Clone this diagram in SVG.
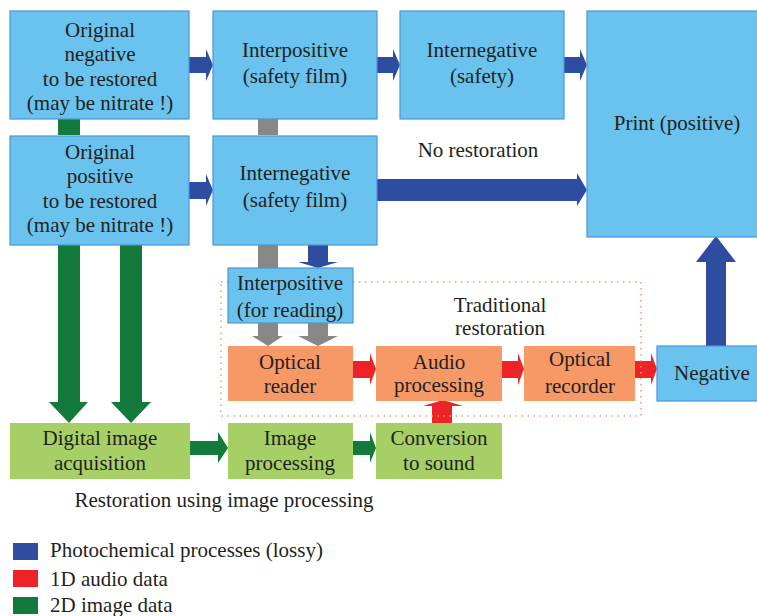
<svg xmlns="http://www.w3.org/2000/svg" width="757" height="616" viewBox="0 0 757 616" font-family="'Liberation Serif', serif" font-size="21">
<style>
.b{fill:#69C3EE;stroke:#4D94D6;stroke-width:1.2}
.o{fill:#F79867}
.g{fill:#A6D066}
text{font-family:"Liberation Serif",serif;font-size:21px;fill:#231F20;text-anchor:middle}
.l{text-anchor:start}
.ab{fill:#2E4DA0}
.ar{fill:#EE2328}
.ag{fill:#137A3C}
.ay{fill:#878787}
</style>
<rect width="757" height="616" fill="#fff"/>
<g id="connectors">
<polygon class="ab" points="189,57 206,57 206,49 213,65 206,81 206,73 189,73"/>
<polygon class="ab" points="377,57 393,57 393,49 400,65 393,81 393,73 377,73"/>
<polygon class="ab" points="564,57 580,57 580,49 587,65 580,81 580,73 564,73"/>
<polygon class="ab" points="189,182 206,182 206,174 213,190 206,206 206,199 189,199"/>
<polygon class="ab" points="377,179 577,179 577,173 587,190 577,206 577,201 377,201"/>
<polygon class="ab" points="308,245 328,245 328,262 338,262 318,268 298,262 308,262"/>
<polygon class="ab" points="706,346 706,262 696,262 716,236 736,262 726,262 726,346"/>
<rect class="ag" x="58" y="119" width="22" height="16"/>
<polygon class="ag" points="58,245 80,245 80,402 88,402 69,423 49,402 58,402"/>
<polygon class="ag" points="120,245 142,245 142,402 151,402 131,423 111,402 120,402"/>
<polygon class="ag" points="190,441 218,441 218,432 228,448 218,463 218,455 190,455"/>
<polygon class="ag" points="353,441 370,441 370,432 376,448 370,463 370,455 353,455"/>
<rect class="ay" x="258" y="119" width="20" height="16"/>
<rect class="ay" x="258" y="245" width="20" height="23"/>
<polygon class="ay" points="258,323 278,323 278,336 283,336 268,346 252,336 258,336"/>
<polygon class="ay" points="308,323 328,323 328,336 338,336 318,346 298,336 308,336"/>
<polygon class="ar" points="353,361 370,361 370,353 376,369 370,385 370,378 353,378"/>
<polygon class="ar" points="502,361 518,361 518,353 524,369 518,385 518,378 502,378"/>
<polygon class="ar" points="635,361 651,361 651,353 657,369 651,385 651,378 635,378"/>
<polygon class="ar" points="432,423 432,406 423,406 443,400 463,406 452,406 452,423"/>
</g>
<rect x="221" y="282" width="420" height="134" fill="none" stroke="#F79867" stroke-width="1.5" stroke-dasharray="1.5,4.5"/>
<g id="n-orig-neg"><rect class="b" x="10" y="11" width="179" height="108"/>
<text x="100" y="37">Original</text><text x="100" y="61">negative</text><text x="100" y="86">to be restored</text><text x="100" y="110">(may be nitrate !)</text></g>
<g id="n-interpos"><rect class="b" x="213" y="11" width="164" height="108"/>
<text x="295" y="57">Interpositive</text><text x="295" y="83">(safety film)</text></g>
<g id="n-interneg-safety"><rect class="b" x="400" y="11" width="164" height="108"/>
<text x="482" y="57">Internegative</text><text x="482" y="83">(safety)</text></g>
<g id="n-print"><rect class="b" x="587" y="11" width="175" height="226"/>
<text x="677" y="130">Print (positive)</text></g>
<g id="n-orig-pos"><rect class="b" x="10" y="136" width="179" height="109"/>
<text x="100" y="159">Original</text><text x="100" y="183">positive</text><text x="100" y="208">to be restored</text><text x="100" y="232">(may be nitrate !)</text></g>
<g id="n-interneg-film"><rect class="b" x="213" y="136" width="164" height="109"/>
<text x="295" y="180">Internegative</text><text x="295" y="207">(safety film)</text></g>
<g id="n-interpos-read"><rect class="b" x="228" y="268" width="125" height="55"/>
<text x="290" y="290">Interpositive</text><text x="290" y="317">(for reading)</text></g>
<g id="n-optical-reader"><rect class="o" x="228" y="346" width="125" height="55"/>
<text x="290" y="369">Optical</text><text x="290" y="393">reader</text></g>
<g id="n-audio"><rect class="o" x="376" y="346" width="126" height="55"/>
<text x="439" y="369">Audio</text><text x="439" y="392">processing</text></g>
<g id="n-optical-recorder"><rect class="o" x="524" y="346" width="111" height="55"/>
<text x="580" y="366">Optical</text><text x="580" y="393">recorder</text></g>
<g id="n-negative"><rect class="b" x="657" y="346" width="105" height="55"/>
<text x="712" y="380">Negative</text></g>
<g id="n-digital"><rect class="g" x="10" y="423" width="180" height="56"/>
<text x="100" y="445">Digital image</text><text x="100" y="470">acquisition</text></g>
<g id="n-imgproc"><rect class="g" x="228" y="423" width="125" height="56"/>
<text x="290" y="445">Image</text><text x="290" y="470">processing</text></g>
<g id="n-conv"><rect class="g" x="376" y="423" width="126" height="56"/>
<text x="439" y="445">Conversion</text><text x="439" y="470">to sound</text></g>
<text x="478" y="157">No restoration</text>
<text x="500" y="312">Traditional</text>
<text x="500" y="335">restoration</text>
<text x="224" y="507">Restoration using image processing</text>
<g id="legend">
<rect x="13" y="543" width="25" height="17" fill="#2E4DA0"/>
<rect x="13" y="570" width="25" height="17" fill="#EE2328"/>
<rect x="13" y="597" width="25" height="17" fill="#137A3C"/>
<text class="l" x="50" y="557">Photochemical processes (lossy)</text>
<text class="l" x="50" y="586">1D audio data</text>
<text class="l" x="50" y="612">2D image data</text>
</g>
</svg>
